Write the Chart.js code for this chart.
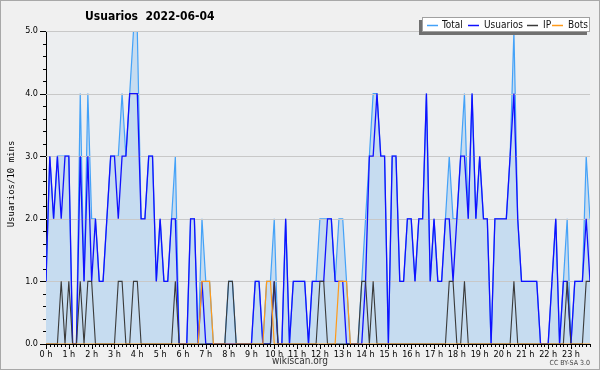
<!DOCTYPE html>
<html>
<head>
<meta charset="utf-8">
<script src="https://cdn.jsdelivr.net/npm/chart.js@4.4.1/dist/chart.umd.min.js"></script>
<style>
html,body{margin:0;padding:0;background:#f0f0f0;}
#wrap{width:600px;height:370px;}
</style>
</head>
<body>
<div id="wrap"><canvas id="c" width="600" height="370"></canvas></div>
<script>
// ---- data (10-minute slots, 00:00 .. 23:50) ----
const TITLE = "Usuarios  2022-06-04";
const Y_TITLE = "Usuarios/10 mins";
const SERIES_NAMES = ["Total", "Usuarios", "IP", "Bots"];
const Y_TICKS = [0, 1, 2, 3, 4, 5];

const total = [
 1,3,2,3,3,3,3,0,0,4,1,4,2,2,1,1,2,3,3,3,4,3,4,5,
 5,2,2,3,3,1,2,1,1,2,3,0,0,0,2,2,0,2,1,1,0,0,0,0,
 1,1,0,0,0,0,0,1,1,0,1,1,2,0,0,2,0,1,1,1,1,0,1,1,
 2,2,2,2,1,2,2,1,0,0,0,1,2,3,4,4,3,3,0,3,3,1,1,2,
 2,1,2,2,4,1,2,1,1,2,3,2,2,3,4,2,4,2,3,2,2,0,2,2,
 2,2,3,5,2,1,1,1,1,1,0,0,0,1,2,0,1,2,0,1,1,1,3,2
];
const usuarios = [
 1,3,2,3,2,3,3,0,0,3,1,3,1,2,1,1,2,3,3,2,3,3,4,4,
 4,2,2,3,3,1,2,1,1,2,2,0,0,0,2,2,0,1,0,0,0,0,0,0,
 0,0,0,0,0,0,0,1,1,0,0,0,1,0,0,2,0,1,1,1,1,0,1,1,
 1,1,2,2,1,1,1,0,0,0,0,0,1,3,3,4,3,3,0,3,3,1,1,2,
 2,1,2,2,4,1,2,1,1,2,2,1,2,3,3,2,4,2,3,2,2,0,2,2,
 2,2,3,4,2,1,1,1,1,1,0,0,0,1,2,0,1,1,0,1,1,1,2,1
];
const ip = [
 0,0,0,0,1,0,1,0,0,1,0,1,1,0,0,0,0,0,0,1,1,0,0,1,
 1,0,0,0,0,0,0,0,0,0,1,0,0,0,0,0,0,0,0,0,0,0,0,0,
 1,1,0,0,0,0,0,0,0,0,0,0,1,0,0,0,0,0,0,0,0,0,0,0,
 1,1,0,0,0,0,0,0,0,0,0,1,1,0,1,0,0,0,0,0,0,0,0,0,
 0,0,0,0,0,0,0,0,0,0,1,1,0,0,1,0,0,0,0,0,0,0,0,0,
 0,0,0,1,0,0,0,0,0,0,0,0,0,0,0,0,0,1,0,0,0,0,1,1
];
const bots = [
 0,0,0,0,0,0,0,0,0,0,0,0,0,0,0,0,0,0,0,0,0,0,0,0,
 0,0,0,0,0,0,0,0,0,0,0,0,0,0,0,0,0,1,1,1,0,0,0,0,
 0,0,0,0,0,0,0,0,0,0,1,1,0,0,0,0,0,0,0,0,0,0,0,0,
 0,0,0,0,0,1,1,1,0,0,0,0,0,0,0,0,0,0,0,0,0,0,0,0,
 0,0,0,0,0,0,0,0,0,0,0,0,0,0,0,0,0,0,0,0,0,0,0,0,
 0,0,0,0,0,0,0,0,0,0,0,0,0,0,0,0,0,0,0,0,0,0,0,0
];
const COLORS = ["#44a2f8", "#1010ff", "#3a3a3a", "#ff9a1a"];

const SANS = "'DejaVu Sans Condensed','DejaVu Sans',sans-serif";
const MONO = "'DejaVu Sans Mono',monospace";

const pts = arr => arr.map((v, i) => ({x: i, y: v}));

const bgPlugin = {
  id: 'bg',
  beforeDraw(chart) {
    const {ctx, chartArea: a} = chart;
    ctx.save();
    ctx.fillStyle = '#f0f0f0';
    ctx.fillRect(0, 0, chart.width, chart.height);
    ctx.strokeStyle = '#a8a8a8';
    ctx.lineWidth = 1;
    ctx.strokeRect(0.5, 0.5, chart.width - 1, chart.height - 1);
    ctx.fillStyle = '#eceef0';
    ctx.fillRect(a.left, a.top, a.right - a.left, a.bottom - a.top);
    ctx.restore();
  }
};

const gridPlugin = {
  id: 'gridAfterFill',
  afterDatasetDraw(chart, args) {
    if (args.index !== 0) return;
    const {ctx, chartArea: a, scales: {y}} = chart;
    ctx.save();
    ctx.strokeStyle = '#c8c8c8';
    ctx.lineWidth = 1;
    Y_TICKS.forEach(v => {
      if (v === 0) return;
      const py = Math.round(y.getPixelForValue(v)) + 0.5;
      ctx.beginPath(); ctx.moveTo(a.left, py); ctx.lineTo(a.right, py); ctx.stroke();
    });
    ctx.restore();
  }
};

const decoPlugin = {
  id: 'deco',
  afterDraw(chart) {
    const {ctx, chartArea: a, scales: {x, y}} = chart;
    ctx.save();
    ctx.strokeStyle = '#000';
    ctx.lineWidth = 1;
    // y ticks (major every 1, minor every 0.2)
    for (let k = 0; k <= 25; k++) {
      const v = k / 5;
      const py = Math.round(y.getPixelForValue(v)) + 0.5;
      const len = (k % 5 === 0) ? 6 : 3;
      ctx.beginPath(); ctx.moveTo(a.left - len, py); ctx.lineTo(a.left, py); ctx.stroke();
    }
    // x ticks (every 10 minutes, hours longer)
    for (let i = 0; i <= 143; i++) {
      const px = Math.round(x.getPixelForValue(i)) + 0.5;
      const len = (i % 6 === 0) ? 5 : 3;
      ctx.beginPath(); ctx.moveTo(px, a.bottom); ctx.lineTo(px, a.bottom + len); ctx.stroke();
    }
    // title
    ctx.fillStyle = '#000';
    ctx.font = "bold 12px " + SANS;
    ctx.textBaseline = 'middle';
    ctx.textAlign = 'left';
    ctx.fillText(TITLE, 85, 17);
    // y axis title
    ctx.save();
    ctx.translate(12, 184);
    ctx.rotate(-Math.PI / 2);
    ctx.font = "9px " + MONO;
    ctx.textAlign = 'center';
    ctx.fillText(Y_TITLE, 0, 0);
    ctx.restore();
    // footer
    ctx.font = "10px " + SANS;
    ctx.textAlign = 'center';
    ctx.fillStyle = '#333';
    ctx.fillText("wikiscan.org", 300, 361);
    ctx.font = "7px " + SANS;
    ctx.textAlign = 'right';
    ctx.fillStyle = '#444';
    ctx.fillText("CC BY-SA 3.0", 590, 363);
    // legend
    const lx = 422, ly = 17, lw = 168, lh = 15;
    ctx.fillStyle = '#707070';
    ctx.fillRect(lx - 3, ly + 3, lw, lh);
    ctx.fillStyle = '#ffffff';
    ctx.fillRect(lx, ly, lw, lh);
    ctx.strokeStyle = '#a0a0a0';
    ctx.strokeRect(lx + 0.5, ly + 0.5, lw - 1, lh - 1);
    ctx.font = "10px " + SANS;
    ctx.textAlign = 'left';
    const lineX = [427, 468, 527, 552];
    const textX = [442, 484, 543, 568];
    const cy = ly + 8;
    SERIES_NAMES.forEach((name, k) => {
      ctx.strokeStyle = COLORS[k];
      ctx.lineWidth = 1.5;
      ctx.beginPath(); ctx.moveTo(lineX[k], cy + 0.5); ctx.lineTo(lineX[k] + 11, cy + 0.5); ctx.stroke();
      ctx.fillStyle = '#111';
      ctx.fillText(name, textX[k], cy);
    });
    ctx.restore();
  }
};

new Chart(document.getElementById('c'), {
  type: 'line',
  data: {
    datasets: [
      {label: SERIES_NAMES[0], data: pts(total), borderColor: COLORS[0], backgroundColor: '#c6dcf0',
       fill: 'origin', borderWidth: 1.2, order: 4},
      {label: SERIES_NAMES[1], data: pts(usuarios), borderColor: COLORS[1], fill: false, borderWidth: 1.3, order: 3},
      {label: SERIES_NAMES[2], data: pts(ip), borderColor: COLORS[2], fill: false, borderWidth: 1.1, order: 2},
      {label: SERIES_NAMES[3], data: pts(bots), borderColor: COLORS[3], fill: false, borderWidth: 1.2, order: 1}
    ]
  },
  options: {
    responsive: false,
    animation: false,
    devicePixelRatio: 1,
    layout: {padding: {top: 31, right: 10, left: 0, bottom: 0}, autoPadding: false},
    elements: {point: {radius: 0}, line: {tension: 0}},
    plugins: {legend: {display: false}, tooltip: {enabled: false}, title: {display: false}},
    scales: {
      x: {
        type: 'linear', min: 0, max: 143,
        grid: {display: false, drawTicks: false},
        border: {display: true, color: '#000', width: 1},
        afterFit: s => { s.height = 26; },
        afterBuildTicks: s => { s.ticks = Array.from({length: 24}, (_, h) => ({value: h * 6})); },
        ticks: {autoSkip: false, maxRotation: 0, padding: 5, color: '#000',
          font: {family: SANS, size: 9},
          callback: v => (v / 6) + ' h'}
      },
      y: {
        min: 0, max: 5,
        grid: {display: false, drawTicks: false},
        border: {display: true, color: '#000', width: 1},
        afterFit: s => { s.width = 46; },
        afterBuildTicks: s => { s.ticks = Y_TICKS.map(v => ({value: v})); },
        ticks: {padding: 8, color: '#000', font: {family: SANS, size: 9},
          callback: v => Number(v).toFixed(1)}
      }
    }
  },
  plugins: [bgPlugin, gridPlugin, decoPlugin]
});
</script>
</body>
</html>
